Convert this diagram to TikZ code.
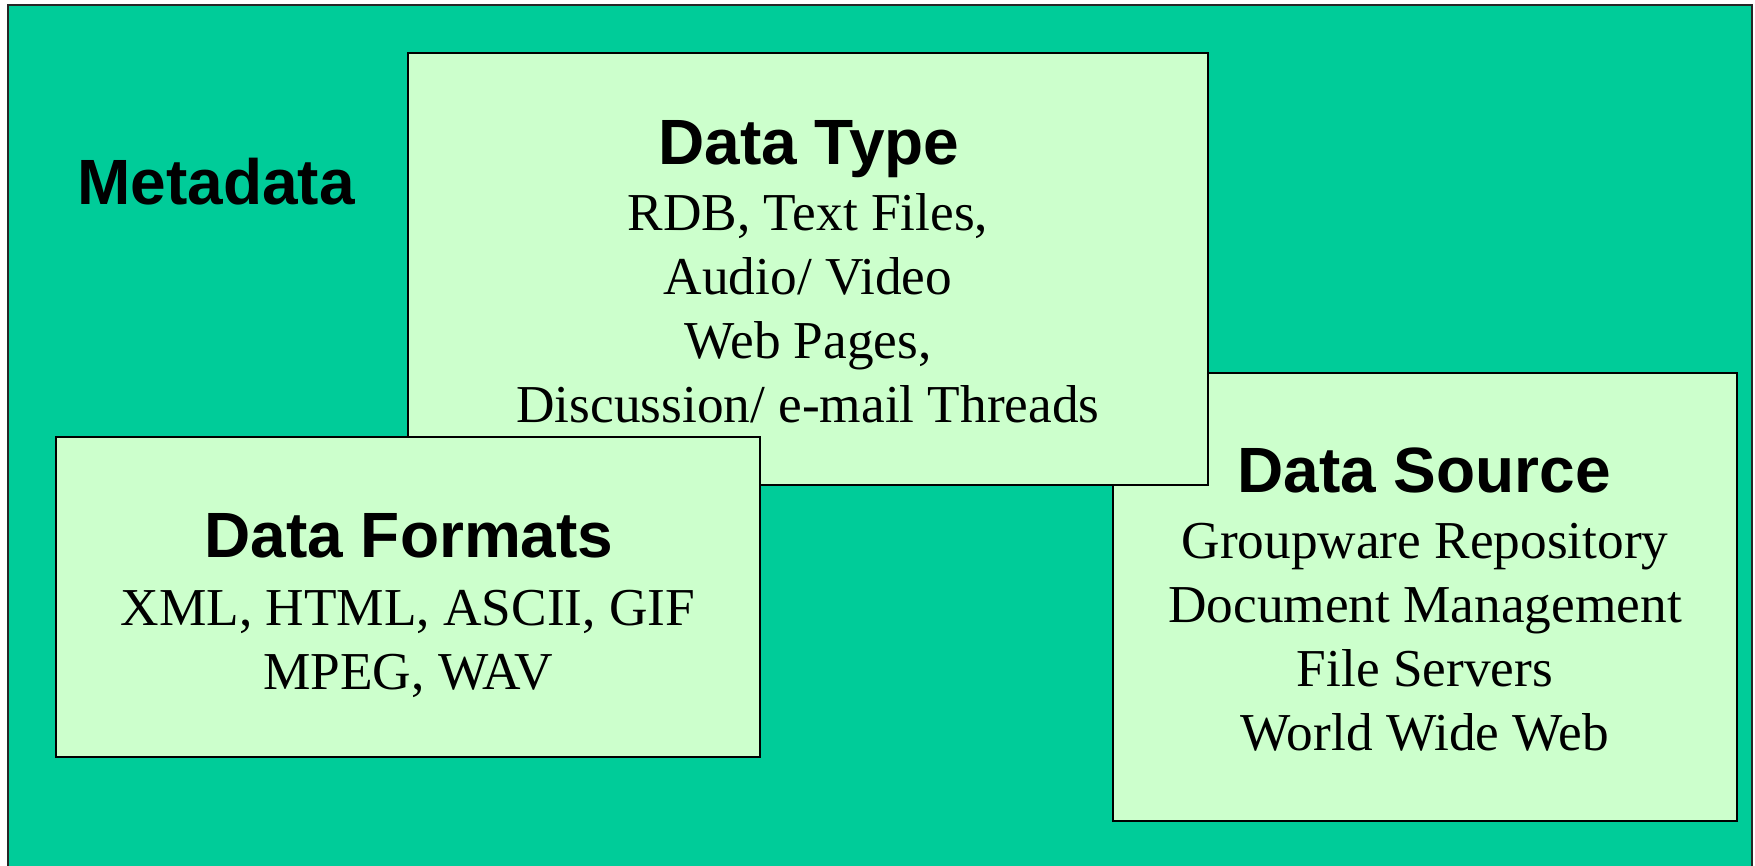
\documentclass[tikz,border=0pt]{standalone}
\usepackage{fontspec}
\setmainfont{Liberation Serif}
\setsansfont{Liberation Sans}
\definecolor{bgteal}{HTML}{00CC99}
\definecolor{boxgreen}{HTML}{CCFFCC}
\tikzset{
  panel/.style={draw=black, fill=boxgreen, line width=1.6pt, inner sep=0pt, outer sep=0pt},
  ttl/.style={anchor=base, inner sep=0pt, font=\sffamily\bfseries\fontsize{64}{68}\selectfont},
  bodytxt/.style={anchor=base, inner sep=0pt, font=\rmfamily\fontsize{53.3}{64}\selectfont},
}
\begin{document}
\begin{tikzpicture}[x=1pt,y=-1pt]
\useasboundingbox (0,0) rectangle (1755,866);
\clip (0,0) rectangle (1755,866);
\fill[white] (0,0) rectangle (1755,866);
\draw[fill=bgteal, draw=black!85, line width=1.4pt] (8,5) rectangle (1752,900);
% boxes (drawing order matters)
\node[panel, minimum width=624pt, minimum height=448pt] (src) at (1425,597) {};
\node[panel, minimum width=800pt, minimum height=432pt] (typ) at (808,269) {};
\node[panel, minimum width=704pt, minimum height=320pt] (fmt) at (408,597) {};
% texts
\node[ttl] (meta) at (216,205) {Metadata};
\node[ttl] (typt) at (809,165) {Data Type};
\node[bodytxt] (typb) at (808,231) {\begin{tabular}[t]{@{}c@{}}RDB, Text Files,\\ Audio/ Video\\ Web Pages,\\ Discussion/ e-mail Threads\end{tabular}};
\node[ttl] (fmtt) at (409,557) {Data Formats};
\node[bodytxt] (fmtb) at (408,625) {\begin{tabular}[t]{@{}c@{}}XML, HTML, ASCII, GIF\\ MPEG, WAV\end{tabular}};
\node[ttl] (srct) at (1424,492) {Data Source};
\node[bodytxt] (srcb) at (1425,558) {\begin{tabular}[t]{@{}c@{}}Groupware Repository\\ Document Management\\ File Servers\\ World Wide Web\end{tabular}};
\end{tikzpicture}
\end{document}
